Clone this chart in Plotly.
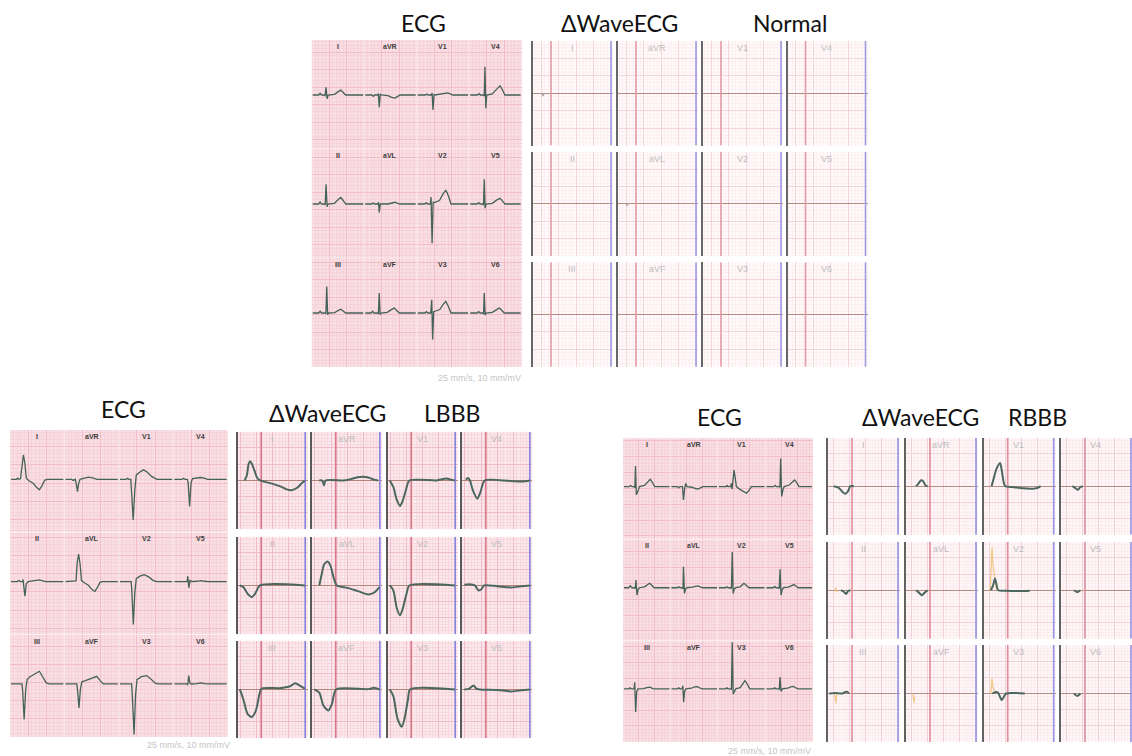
import plotly.graph_objects as go

W, H = 1132, 756

LEAD_ROWS = [["I", "aVR", "V1", "V4"],
             ["II", "aVL", "V2", "V5"],
             ["III", "aVF", "V3", "V6"]]

# ---------------- ECG strips: (time, amplitude) in small-grid units per lead cell
NORMAL_ECG = {
    "I":   [(0.3,0),(2.0,0),(2.4,0.5),(2.8,0),(3.6,0),(3.8,-0.3),(4.1,2.2),(4.4,-1.1),(4.7,0),(6.5,0.2),(7.5,0.9),(8.3,1.4),(9.0,0.7),(9.7,0),(14.7,0)],
    "aVR": [(0.3,0),(2.2,0),(2.6,-0.4),(3.0,0),(3.9,0),(4.05,0.4),(4.3,-3.5),(4.6,0.3),(4.9,0),(6.8,-0.2),(7.8,-0.7),(8.8,-0.9),(9.6,-0.4),(10.2,0),(14.7,0)],
    "V1":  [(0.3,0),(2.5,0),(2.9,0.3),(3.3,0),(4.2,0),(4.4,0.6),(4.65,-4.3),(4.95,0.2),(5.2,0),(7.0,0.2),(8.0,0.5),(8.8,0.6),(9.6,0.3),(10.3,0),(14.7,0)],
    "V4":  [(0.3,0),(2.4,0),(2.8,0.4),(3.2,0),(4.1,0),(4.3,-0.3),(4.5,8.1),(4.75,-3.8),(5.0,0),(6.6,0.3),(7.8,1.6),(8.8,2.6),(9.5,1.5),(10.2,0),(14.7,0)],
    "II":  [(0.3,0),(2.0,0),(2.4,0.6),(2.8,0),(3.7,0),(3.85,-0.3),(4.1,5.6),(4.4,-0.8),(4.6,0),(6.5,0.2),(7.5,1.2),(8.3,1.9),(9.0,1.0),(9.7,0),(14.7,0)],
    "aVL": [(0.3,0),(2.2,0),(2.6,0.3),(3.0,0),(3.9,0),(4.1,0.5),(4.3,-2.4),(4.6,0),(6.8,0),(7.8,0.3),(8.8,0.5),(9.6,0.2),(10.2,0),(14.7,0)],
    "V2":  [(0.3,0),(2.3,0),(2.7,0.4),(3.1,0),(3.9,0),(4.1,2.0),(4.4,-11.2),(4.7,0.5),(5.0,0.4),(6.5,1.0),(7.5,2.8),(8.3,4.0),(9.0,2.5),(9.8,0),(14.7,0)],
    "V5":  [(0.3,0),(2.3,0),(2.7,0.4),(3.1,0),(3.9,0),(4.1,-0.3),(4.3,7.1),(4.55,-1.2),(4.8,0),(6.6,0.2),(7.8,1.1),(8.8,1.6),(9.5,0.9),(10.2,0),(14.7,0)],
    "III": [(0.3,0),(2.0,0),(2.4,0.5),(2.8,0),(3.9,0),(4.05,-0.3),(4.3,7.6),(4.55,-0.5),(4.8,0),(6.6,0.1),(7.5,0.7),(8.3,1.1),(9.0,0.6),(9.7,0),(14.7,0)],
    "aVF": [(0.3,0),(2.0,0),(2.4,0.5),(2.8,0),(3.9,0),(4.05,-0.3),(4.3,5.7),(4.55,-0.5),(4.8,0),(6.6,0.2),(7.6,0.9),(8.6,1.4),(9.3,0.7),(10.0,0),(14.7,0)],
    "V3":  [(0.3,0),(2.4,0),(2.8,0.4),(3.2,0),(4.0,0),(4.3,3.8),(4.55,-7.6),(4.85,0.4),(5.2,0.5),(6.6,1.0),(7.5,2.4),(8.3,3.3),(9.0,2.0),(9.8,0),(14.7,0)],
    "V6":  [(0.3,0),(2.3,0),(2.7,0.4),(3.1,0),(3.9,0),(4.1,-0.3),(4.3,5.7),(4.55,-0.6),(4.8,0),(6.6,0.2),(7.7,0.9),(8.6,1.4),(9.3,0.8),(10.0,0),(14.7,0)],
}

LBBB_ECG = {
    "I":   [(0.3,0),(1.8,0),(2.1,0.3),(2.5,0),(2.9,0.2),(3.3,4.5),(3.7,6.7),(4.1,4.5),(4.5,0.3),(5.2,-0.4),(6.3,-1.0),(7.3,-2.2),(8.1,-2.9),(8.8,-1.8),(9.6,-0.2),(10.3,0),(14.7,0)],
    "aVR": [(0.3,0),(2.0,0),(2.4,-0.3),(2.8,0),(3.0,0),(3.3,-1.5),(3.6,-3.4),(3.9,-1.2),(4.3,0),(5.5,0.3),(6.8,0.6),(8.0,0.3),(9.0,0),(14.7,0)],
    "V1":  [(0.3,0),(2.0,0),(2.4,0.3),(2.8,0),(3.3,0),(3.5,-3.0),(3.95,-11.2),(4.4,-3.0),(4.8,1.2),(5.8,2.0),(6.8,2.6),(7.8,2.0),(9.0,0.8),(10.5,0),(14.7,0)],
    "V4":  [(0.3,0),(2.4,0),(2.8,0.3),(3.2,0),(3.9,0),(4.1,-1.0),(4.5,-7.5),(4.9,-1.0),(5.3,0.2),(6.5,0.3),(7.5,0.5),(8.5,0.3),(9.5,0),(14.7,0)],
    "II":  [(0.3,0),(2.0,0),(2.4,0.3),(2.8,0),(3.4,0),(3.6,0.6),(4.1,-4.0),(4.5,-0.5),(5.0,0),(6.8,0.2),(8.1,0.5),(9.0,0.2),(9.8,0),(14.7,0)],
    "aVL": [(0.3,0),(2.0,0),(2.4,0.2),(2.8,0),(3.2,0.2),(3.5,5.0),(3.9,7.6),(4.3,5.0),(4.7,0.3),(5.5,-0.3),(6.6,-1.0),(7.6,-2.2),(8.4,-2.7),(9.1,-1.6),(9.8,-0.2),(10.4,0),(14.7,0)],
    "V2":  [(0.3,0),(2.0,0),(2.4,0.2),(2.8,0),(3.4,0),(3.6,-3.0),(4.0,-11.8),(4.4,-3.0),(4.8,0.8),(5.8,1.5),(7.0,1.9),(8.2,1.3),(9.5,0.3),(10.5,0),(14.7,0)],
    "V5":  [(0.3,0),(2.4,0),(2.8,0.2),(3.2,0),(3.8,0),(4.0,1.5),(4.3,-1.7),(4.6,0.3),(5.0,0),(6.5,0.1),(7.6,0.3),(8.6,0.1),(9.5,0),(14.7,0)],
    "III": [(0.3,0),(2.0,0),(2.4,0.2),(2.8,0),(3.3,0),(3.5,-2.0),(3.9,-9.8),(4.3,-2.0),(4.7,1.2),(5.5,2.0),(6.7,2.6),(8.1,3.5),(9.0,2.0),(10.0,0.3),(10.8,0),(14.7,0)],
    "aVF": [(0.3,0),(2.0,0),(2.4,0.2),(2.8,0),(3.4,0),(3.6,-1.5),(4.0,-6.6),(4.4,-1.5),(4.8,0.6),(5.8,0.9),(7.5,1.5),(8.9,2.1),(9.8,1.0),(10.7,0),(14.7,0)],
    "V3":  [(0.3,0),(2.0,0),(2.4,0.2),(2.8,0),(3.5,0),(3.7,-3.0),(4.2,-13.9),(4.6,-3.0),(5.0,1.2),(6.2,2.0),(7.7,2.3),(8.8,1.4),(10.0,0.2),(10.8,0),(14.7,0)],
    "V6":  [(0.3,0),(2.4,0),(2.8,0.2),(3.2,0),(3.8,0),(4.0,-0.3),(4.25,2.3),(4.6,0.2),(5.0,0),(6.5,0.1),(7.6,0.3),(8.6,0.1),(9.5,0),(14.7,0)],
}

RBBB_ECG = {
    "I":   [(0.3,0),(2.0,0),(2.4,0.4),(2.8,0),(3.6,0),(3.75,-0.4),(3.95,6.5),(4.2,-2.6),(4.7,-1.5),(5.2,0),(6.8,0.4),(7.8,1.6),(8.6,2.3),(9.3,1.3),(10.0,0),(14.7,0)],
    "aVR": [(0.3,0),(2.2,0),(2.6,-0.4),(3.0,0),(3.8,0),(4.1,-4.2),(4.5,-0.5),(4.8,1.0),(5.2,0),(6.8,-0.2),(7.9,-0.6),(8.8,-0.8),(9.6,-0.3),(10.2,0),(14.7,0)],
    "V1":  [(0.3,0),(2.5,0),(2.9,0.3),(3.3,0),(4.0,0),(4.2,1.0),(4.45,-0.8),(4.8,4.0),(5.05,5.2),(5.4,3.0),(5.8,0),(6.8,-0.8),(8.0,-1.6),(9.0,-2.1),(9.8,-1.2),(10.5,0),(14.7,0)],
    "V4":  [(0.3,0),(2.6,0),(3.0,0.4),(3.4,0),(4.4,0),(4.55,-0.3),(4.8,8.9),(5.1,-3.1),(5.5,-1.0),(5.9,0),(7.5,0.5),(8.4,1.5),(9.2,2.1),(9.9,1.2),(10.6,0),(14.7,0)],
    "II":  [(0.3,0),(1.8,0),(2.3,0.6),(2.8,0),(3.7,0),(3.9,-0.3),(4.1,2.4),(4.4,-2.3),(4.8,-0.5),(5.2,0),(6.8,0.3),(7.7,1.0),(8.4,1.4),(9.1,0.8),(9.8,0),(14.7,0)],
    "aVL": [(0.3,0),(2.2,0),(2.6,0.3),(3.0,0),(3.8,0),(3.95,-0.3),(4.1,6.6),(4.4,-1.8),(4.8,-0.3),(5.2,0),(6.8,0.2),(7.8,0.5),(8.7,0.6),(9.5,0.2),(10.1,0),(14.7,0)],
    "V2":  [(0.3,0),(2.4,0),(2.8,0.3),(3.2,0),(4.1,0),(4.25,-0.3),(4.5,11.3),(4.8,-1.8),(5.2,-0.3),(5.6,0),(7.0,0.3),(7.6,1.0),(8.2,1.4),(9.0,0.7),(9.8,0),(14.7,0)],
    "V5":  [(0.3,0),(2.5,0),(2.9,0.4),(3.3,0),(4.2,0),(4.35,-0.3),(4.6,5.8),(4.9,-2.3),(5.3,-0.5),(5.7,0),(7.2,0.2),(8.2,0.7),(9.0,1.0),(9.7,0.5),(10.3,0),(14.7,0)],
    "III": [(0.3,0),(1.8,0),(2.2,0.3),(2.6,0),(3.5,0),(3.7,2.1),(4.0,-7.3),(4.3,-1.0),(4.7,0),(6.5,0.1),(7.5,0.4),(8.5,0.5),(9.4,0.1),(10.0,0),(14.7,0)],
    "aVF": [(0.3,0),(2.2,0),(2.6,0.3),(3.0,0),(3.7,0),(3.9,1.0),(4.15,-4.2),(4.45,-0.8),(4.8,0),(6.6,0.2),(7.6,0.6),(8.5,0.7),(9.4,0.2),(10.0,0),(14.7,0)],
    "V3":  [(0.3,0),(2.4,0),(2.8,0.3),(3.2,0),(4.1,0),(4.25,-0.3),(4.5,14.7),(4.8,-1.6),(5.2,-0.8),(5.6,0),(7.0,0.4),(7.8,1.8),(8.5,2.6),(9.2,1.6),(10.0,0),(14.7,0)],
    "V6":  [(0.3,0),(2.5,0),(2.9,0.3),(3.3,0),(4.2,0),(4.35,-0.3),(4.6,3.7),(4.9,-0.8),(5.3,0),(7.0,0.2),(8.0,0.6),(8.9,0.8),(9.6,0.3),(10.3,0),(14.7,0)],
}

# ---------------- ΔWaveECG: (percent of cell width, amplitude in major grid boxes)
NORMAL_DWAVE = {
    "I":   [(11,0),(12.5,-0.15),(14,0)],
    "aVL": [(10,0),(11.5,-0.1),(13,0)],
}

LBBB_DWAVE = {
    "I":   [(10,0),(13,0.3),(15.5,1.0),(17.6,1.18),(20,1.05),(24,0.6),(28,0.15),(32,0),(45,-0.15),(60,-0.35),(70,-0.55),(77,-0.6),(85,-0.45),(92,-0.15),(96,0)],
    "aVR": [(10,0),(14,0),(16.7,-0.3),(19,0),(45,0),(55,0.08),(65,0.2),(72,0.23),(80,0.18),(88,0.05),(94,0)],
    "V1":  [(3,0),(8,-0.4),(13,-1.2),(17.6,-1.57),(21,-1.3),(26,-0.6),(31,0),(70,0),(78,0.08),(84,0.12),(90,0.05),(96,0)],
    "V4":  [(5,0.05),(8,0.15),(11,0),(15,-0.6),(21.5,-1.12),(26,-0.7),(32,0),(60,0),(75,-0.05),(85,-0.06),(97,0)],
    "II":  [(3,0),(8,-0.1),(14,-0.5),(20,-0.71),(25,-0.5),(32,0),(96,0)],
    "aVL": [(10,0),(13,0.6),(17,1.3),(22,1.47),(26,1.2),(31,0.4),(35,0),(50,-0.15),(65,-0.35),(80,-0.55),(88,-0.45),(96,-0.1)],
    "V2":  [(3,0),(8,-0.3),(13,-1.4),(17.6,-1.84),(21,-1.5),(27,-0.5),(31,0),(96,0)],
    "V5":  [(3,0.05),(10,0.08),(18,0),(23,-0.3),(27,-0.25),(31,0),(50,-0.05),(70,-0.12),(85,-0.05),(97,0)],
    "III": [(3,0),(8,-0.6),(14,-1.5),(20,-1.69),(26,-1.3),(31,-0.3),(34,0.05),(60,0.08),(75,0.2),(82,0.38),(90,0.2),(96,0.05)],
    "aVF": [(3,0),(10,-0.2),(16,-1.0),(23,-1.29),(28,-0.9),(34,0),(80,0.02),(88,0.1),(96,0)],
    "V3":  [(3,0),(8,-0.4),(14,-1.8),(20,-2.3),(24,-1.8),(29,-0.6),(32,0),(96,0)],
    "V6":  [(3,0),(10,0.05),(16,0.25),(20,0.05),(25,0),(50,-0.03),(70,-0.12),(85,-0.05),(97,0)],
}

RBBB_DWAVE = {
    "I":   [(8,0),(15,-0.1),(20,-0.35),(24,-0.47),(28,-0.3),(31,0),(36,0)],
    "aVR": [(14,0),(17,0.15),(21,0.37),(24,0.3),(27,0.05),(30,0)],
    "V1":  [(11,0),(14,0.5),(18,1.1),(22.7,1.44),(25,1.0),(28,0.2),(30,0),(40,-0.05),(55,-0.12),(70,-0.15),(76,-0.08),(79,0)],
    "V4":  [(16,0),(20,-0.12),(23.5,-0.22),(27,-0.05),(30,0)],
    "II":  [(18,0),(22,-0.1),(25,-0.23),(28,-0.05),(31,0)],
    "aVL": [(14,0),(18,-0.15),(22,-0.31),(26,-0.15),(30,0)],
    "V2":  [(10,0),(13,0.3),(15.7,0.72),(18,0.3),(20,0),(30,-0.03),(50,-0.05),(64,-0.03)],
    "V5":  [(18,0),(22.6,-0.12),(27,0)],
    "III": [(2,0),(10,0.03),(20,0),(24,0.1),(27,0.1),(29,0)],
    "V3":  [(12,0),(17,0.1),(20,0.05),(25,-0.41),(28,-0.2),(31,0),(57,0)],
    "V6":  [(18,0),(22.6,-0.16),(27,0)],
}

RBBB_DWAVE_REF = {
    "II":  [(10,0),(11,0.15),(12,-0.1),(13,0)],
    "V2":  [(9,0),(10.5,1.5),(11.5,2.67),(12.5,1.8),(14,1.2),(16,0.5),(18,0.1),(20,0)],
    "III": [(9,0),(10,-0.3),(11,-0.6),(11.5,-0.3),(12,0)],
    "aVF": [(9.5,0),(10.5,-0.35),(11.2,-0.6),(12,-0.2)],
    "V3":  [(10,0),(11,0.6),(11.5,0.92),(13,0.4),(16,0.1),(18,0)],
}

SCALE_NOTE = "25 mm/s, 10 mm/mV"

# ---------------- figure construction
layout = {}
shapes = []
annotations = []
traces = []
counter = [0]


def new_axes(x0, y0, x1, y1, xaxis, yaxis):
    counter[0] += 1
    n = counter[0]
    s = "" if n == 1 else str(n)
    xaxis.update(domain=[x0 / W, min(x1 / W, 1.0)], anchor="y" + s)
    yaxis.update(domain=[1 - y1 / H, 1 - y0 / H], anchor="x" + s)
    for ax in (xaxis, yaxis):
        ax.setdefault("showticklabels", False)
        ax.setdefault("ticks", "")
        ax.setdefault("fixedrange", True)
    layout["xaxis" + s] = xaxis
    layout["yaxis" + s] = yaxis
    return "x" + s, "y" + s


def grid_axis(rng, dtick, tick0, major_c, minor_c, minor_dtick, major_w=0.8, minor_w=0.5):
    return dict(range=rng, showgrid=True, dtick=dtick, tick0=tick0,
                gridcolor=major_c, gridwidth=major_w, zeroline=False, showline=False,
                minor=dict(showgrid=True, dtick=minor_dtick, tick0=tick0,
                           gridcolor=minor_c, gridwidth=minor_w))


def line_trace(xs, ys, xr, yr, color, width, shape="linear"):
    traces.append(go.Scatter(x=xs, y=ys, xaxis=xr, yaxis=yr, mode="lines",
                             line=dict(color=color, width=width, shape=shape),
                             hoverinfo="skip", showlegend=False))


def ecg_panel(data, box, base_off_px, note_xy):
    x0, y0, x1, y1 = box
    upx = (x1 - x0) / 60.0
    hu = (y1 - y0) / upx
    row_u = hu / 3.0
    xa = grid_axis([0, 60], 5, 0, "#f1bdc8", "#f6d2d9", 1)
    ya = grid_axis([0, hu], 5, 0, "#f1bdc8", "#f6d2d9", 1)
    xr, yr = new_axes(x0, y0, x1, y1, xa, ya)
    shapes.append(dict(type="rect", xref=xr + " domain", yref=yr + " domain",
                       x0=0, x1=1, y0=0, y1=1, fillcolor="#f9dee4",
                       line=dict(width=0), layer="below"))
    # faint white separators between lead cells
    sx, sy = [], []
    for c in range(1, 4):
        sx += [c * 15, c * 15, None]
        sy += [0, hu, None]
    for r in range(1, 3):
        sx += [0, 60, None]
        sy += [hu - r * row_u, hu - r * row_u, None]
    line_trace(sx, sy, xr, yr, "rgba(255,255,255,0.6)", 1.2)
    xs, ys = [], []
    for r, row in enumerate(LEAD_ROWS):
        base = hu - r * row_u - base_off_px / upx
        top = hu - r * row_u
        for c, lead in enumerate(row):
            for t, v in data[lead]:
                xs.append(c * 15 + t)
                ys.append(base + v)
            xs.append(None)
            ys.append(None)
            annotations.append(dict(text="<b>" + lead + "</b>", xref=xr, yref=yr,
                                    x=c * 15 + 7.5, y=top - 6.5 / upx, showarrow=False,
                                    font=dict(family="Liberation Sans", size=7, color="#3d3d3d"),
                                    xanchor="center", yanchor="middle"))
    line_trace(xs, ys, xr, yr, "#44615a", 1.3)
    annotations.append(dict(text=SCALE_NOTE, xref="paper", yref="paper",
                            x=note_xy[0] / W, y=1 - note_xy[1] / H, showarrow=False,
                            xanchor="right", yanchor="middle",
                            font=dict(family="Liberation Sans", size=9, color="#c4c4c4")))


def dwave_panel(data, ref_data, col_starts, row_tops, cw, ch, red_px, blue_px, pal):
    major = ch / 6.0
    for r, row in enumerate(LEAD_ROWS):
        for c, lead in enumerate(row):
            x0 = col_starts[c]
            y0 = row_tops[r]
            x1 = min(x0 + cw, W)
            xmax = (x1 - x0) / major
            t0 = (blue_px / major) % 1.0
            xa = grid_axis([0, xmax], 1, t0, pal["major"], pal["minor"], 0.2, 0.9, 0.5)
            ya = grid_axis([-3, 3], 1, 0, pal["major"], pal["minor"], 0.2, 0.9, 0.5)
            ya.update(zeroline=True, zerolinecolor=pal["base"], zerolinewidth=1.2,
                      showline=True, linecolor=pal["dark"], linewidth=2.2)
            xr, yr = new_axes(x0, y0, x1, y0 + ch, xa, ya)
            shapes.append(dict(type="rect", xref=xr + " domain", yref=yr + " domain",
                               x0=0, x1=1, y0=0, y1=1, fillcolor=pal["bg"],
                               line=dict(width=0), layer="below"))
            for px, col in ((red_px, pal["red"]), (blue_px, pal["blue"])):
                if x0 + px <= W:
                    line_trace([px / major, px / major], [-3, 3], xr, yr, col, 1.6)
            annotations.append(dict(text=lead, xref=xr + " domain", yref=yr + " domain",
                                    x=0.49, y=1 - 7 / ch, showarrow=False,
                                    xanchor="center", yanchor="middle",
                                    font=dict(family="Liberation Sans", size=9, color="#bcbcbc")))
            for src, colr, wid in ((ref_data, "rgba(240,190,110,0.85)", 1.2),
                                   (data, pal["trace"], pal["trace_w"])):
                if src and lead in src:
                    pts = src[lead]
                    traces.append(go.Scatter(
                        x=[p[0] / 100.0 * cw / major for p in pts],
                        y=[p[1] for p in pts], xaxis=xr, yaxis=yr, mode="lines",
                        line=dict(color=colr, width=wid, shape="spline", smoothing=0.7),
                        hoverinfo="skip", showlegend=False))


# ECG panels
ecg_panel(NORMAL_ECG, (311.7, 40, 521.7, 367), 55, (523, 378))
ecg_panel(LBBB_ECG, (10, 430, 227.7, 737), 49.3, (232, 745))
ecg_panel(RBBB_ECG, (623, 438.3, 813, 741.7), 48.3, (813, 751))

# ΔWaveECG panels
PAL_NORMAL = dict(bg="#fff9fa", major="#f3d6dc", minor="#fcf0f2", base="#b58d80",
                  dark="#676767", red="#e39aa6", blue="#9c9be4", trace="#a8a8a8", trace_w=1.2)
PAL_LBBB = dict(bg="#fce9ed", major="#eebdc8", minor="#f7d8df", base="#b58478",
                dark="#595959", red="#d8798a", blue="#8584dc", trace="#4b6760", trace_w=2.0)
PAL_RBBB = dict(bg="#fef6f7", major="#f1d0d7", minor="#fbecef", base="#b58d80",
                dark="#626262", red="#df8d9a", blue="#9594e2", trace="#4b6760", trace_w=2.0)

dwave_panel(NORMAL_DWAVE, None, [533, 618, 703, 787.5], [41, 151.7, 262.3], 80, 104.5, 18, 78, PAL_NORMAL)
dwave_panel(LBBB_DWAVE, None, [237.7, 312.3, 387.7, 462.3], [431.7, 536.7, 640.7], 70, 97.5, 23.5, 67.5, PAL_LBBB)
dwave_panel(RBBB_DWAVE, RBBB_DWAVE_REF, [828, 906, 983.7, 1061], [437.7, 541.7, 645], 72, 97, 24, 70, PAL_RBBB)

# Titles
TITLES = [("ECG", 423.5, 23.5), ("ΔWaveECG", 619, 23.5), ("Normal", 790, 23.5),
          ("ECG", 123.5, 408.5), ("ΔWaveECG", 327.5, 413), ("LBBB", 452, 413),
          ("ECG", 719, 416.5), ("ΔWaveECG", 920, 416.5), ("RBBB", 1037, 416.5)]
for txt, x, y in TITLES:
    annotations.append(dict(text=txt, xref="paper", yref="paper", x=x / W, y=1 - y / H,
                            showarrow=False, xanchor="center", yanchor="middle",
                            font=dict(family="Lato", size=23, color="#111111")))

fig = go.Figure(data=traces)
fig.update_layout(width=W, height=H, margin=dict(l=0, r=0, t=0, b=0),
                  paper_bgcolor="white", plot_bgcolor="rgba(0,0,0,0)",
                  showlegend=False, shapes=shapes, annotations=annotations, **layout)
fig.write_html("out.html", config={"displayModeBar": False},
               post_script="document.body.style.margin='0';document.body.style.overflow='hidden';")
